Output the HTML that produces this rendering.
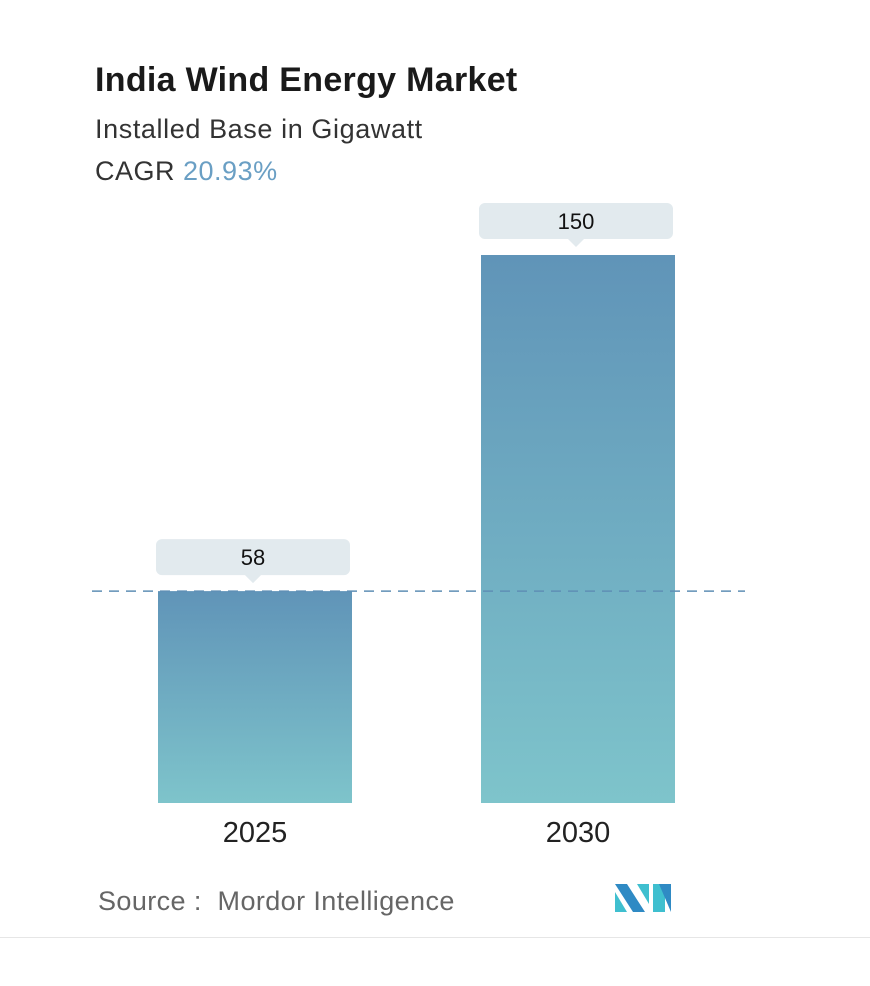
<!DOCTYPE html>
<html><head><meta charset="utf-8"><style>
body{margin:0;width:870px;height:986px;background:#fff;font-family:"Liberation Sans",sans-serif;overflow:hidden;position:relative}
.t{position:absolute;left:95px;white-space:nowrap}
</style></head><body>
<div class="t" style="top:61px;font-size:34px;font-weight:bold;color:#1a1a1a;letter-spacing:0.3px">India Wind Energy Market</div>
<div class="t" style="top:114px;font-size:27px;color:#333;letter-spacing:0.6px">Installed Base in Gigawatt</div>
<div class="t" style="top:156px;font-size:27px;color:#333;letter-spacing:0.5px">CAGR <span style="color:#6a9fc4">20.93%</span></div>
<svg id="chart" width="870" height="986" style="position:absolute;left:0;top:0">
<defs><linearGradient id="g" x1="0" y1="0" x2="0" y2="1"><stop offset="0" stop-color="#6094b8"/><stop offset="1" stop-color="#7ec4cb"/></linearGradient></defs>
</svg>
<div class="t" style="left:98px;top:886px;font-size:27px;color:#666;letter-spacing:0.4px">Source :&nbsp; Mordor Intelligence</div>
<svg width="60" height="32" style="position:absolute;left:615px;top:882px">
<polygon points="0,2 12,2 30,30 18,30" fill="#2f8ac4"/><polygon points="0,10 12,30 0,30" fill="#3fbfcf"/>
<polygon points="22,2 34,2 34,22" fill="#3fbfcf"/><polygon points="38,2 50,2 50,30 38,30" fill="#3fbfcf"/>
<polygon points="44,2 56,30 56,2" fill="#2f8ac4"/>
</svg>
<div style="position:absolute;left:0;top:937px;width:870px;height:1px;background:#e6e6e6"></div>
<script>
const categories=["2025","2030"];
const values=[58,150];
const svg=document.getElementById('chart');
const NS='http://www.w3.org/2000/svg';
const base=803, scale=548/150;
const y=v=>base-v*scale;
const xs=[158,481], bw=194;
function mk(t,a){const e=document.createElementNS(NS,t);for(const k in a)e.setAttribute(k,a[k]);svg.appendChild(e);return e;}
values.forEach((v,i)=>{
  const x=xs[i];
  const b=mk('rect',{x:x,y:y(v),width:bw,height:base-y(v),fill:'url(#g)'});
  
  
  const top=y(v);
  const lb=mk('path',{d:`M${x+4} ${top-52} h${bw-12} a6 6 0 0 1 6 6 v24 a6 6 0 0 1 -6 6 h${-(bw-12)/2+8} l-8 8 l-8 -8 h${-(bw-12)/2+8} a6 6 0 0 1 -6 -6 v-24 a6 6 0 0 1 6 -6z`,fill:'#e2eaee'});
  
  
  const t=mk('text',{x:x+bw/2-2,y:top-26,'text-anchor':'middle','font-size':'22',fill:'#111','font-family':'Liberation Sans, sans-serif'});
  t.textContent=v;
  
  
  const c=mk('text',{x:x+bw/2,y:842,'text-anchor':'middle','font-size':'29',fill:'#222','font-family':'Liberation Sans, sans-serif'});
  c.textContent=categories[i];
  
  
});
const d=mk('line',{x1:92,x2:745,y1:y(values[0]),y2:y(values[0]),stroke:'#5f8fb5','stroke-width':1.5,'stroke-dasharray':'10 7'});


</script>
</body></html>
